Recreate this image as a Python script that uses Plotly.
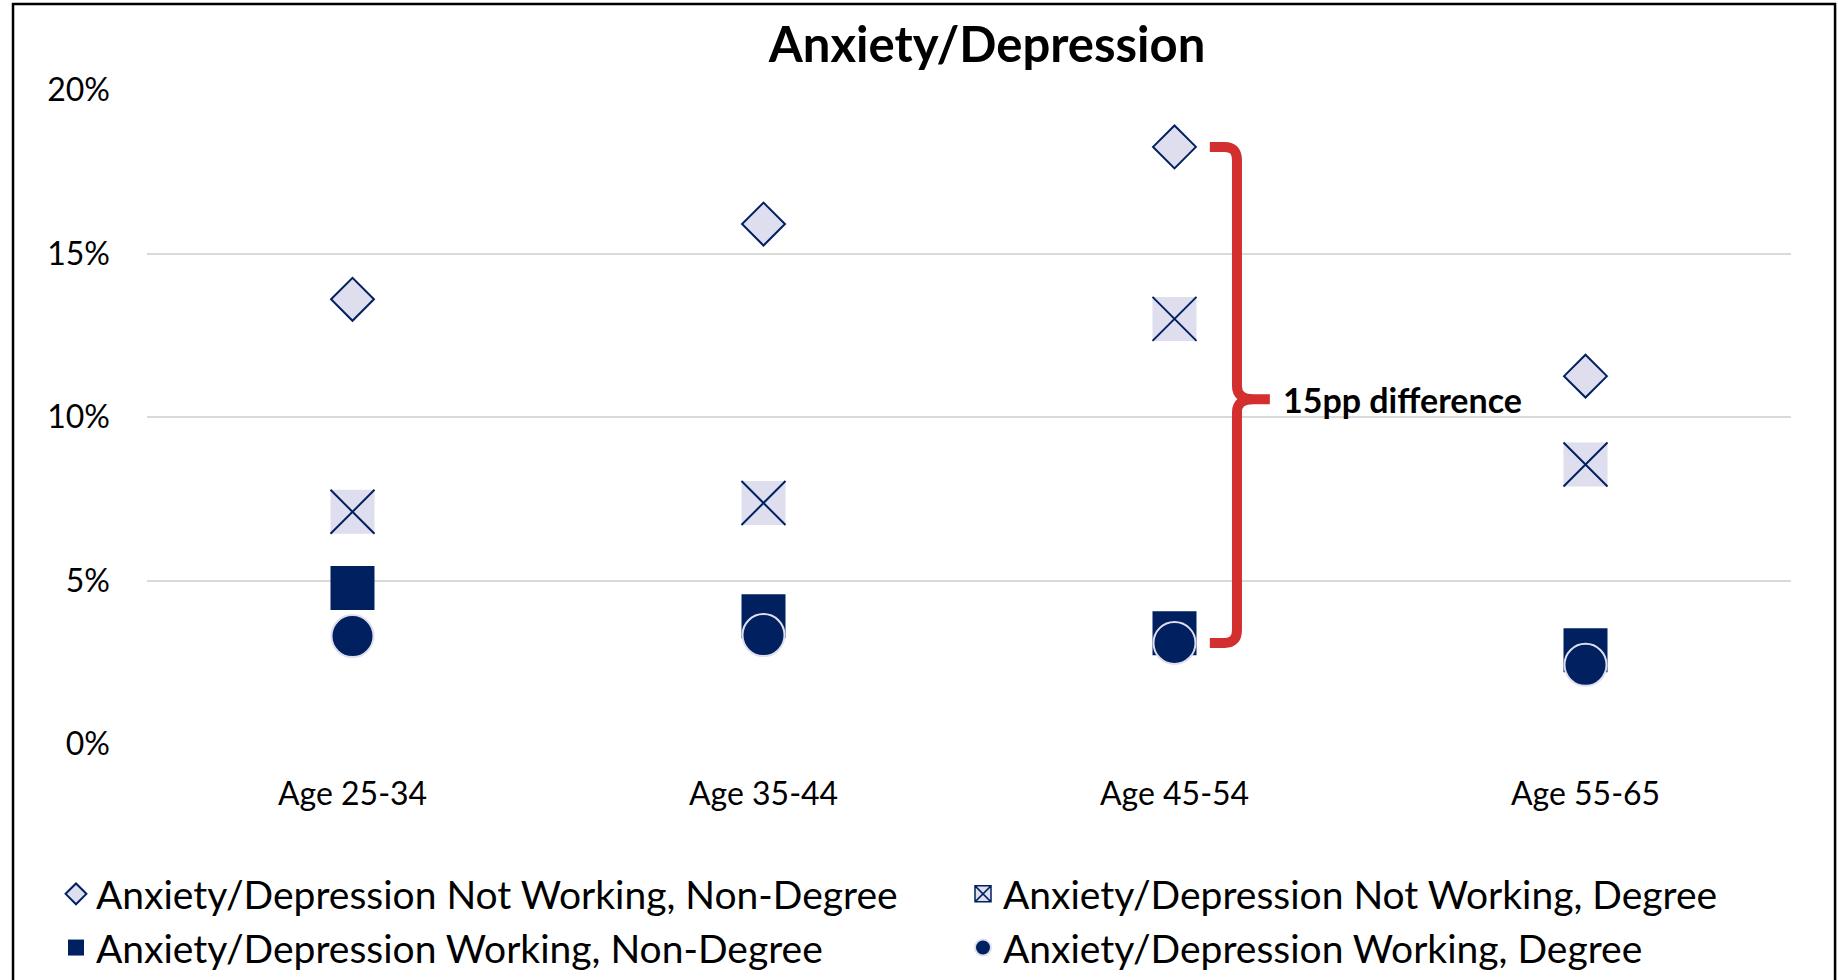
import plotly.graph_objects as go

# Dados (proporções)
categories = ["Age 25-34", "Age 35-44", "Age 45-54", "Age 55-65"]
not_working_non_degree = [0.136, 0.159, 0.1826, 0.1125]
not_working_degree = [0.071, 0.0737, 0.130, 0.0855]
working_non_degree = [0.0477, 0.0391, 0.0339, 0.0287]
working_degree = [0.0330, 0.0333, 0.0309, 0.0242]

NAVY = "#002060"
LAVENDER = "#DEDEEE"
RED = "#D32F2F"
FONT = "Lato, Open Sans, sans-serif"

x_idx = list(range(len(categories)))

fig = go.Figure()

# Losango - Not Working, Non-Degree (coluna esquerda da legenda)
fig.add_trace(go.Scatter(
    x=x_idx, y=not_working_non_degree, mode="markers",
    name="Anxiety/Depression Not Working, Non-Degree", legend="legend",
    marker=dict(symbol="diamond", size=33, color=LAVENDER,
                line=dict(color=NAVY, width=2)),
))

# Quadrado com X - só a entrada de legenda (coluna direita)
fig.add_trace(go.Scatter(
    x=[None], y=[None], mode="markers",
    name="Anxiety/Depression Not Working, Degree", legend="legend2",
    marker=dict(symbol="square-x", size=44, color=LAVENDER,
                line=dict(color=NAVY, width=1.5)),
))
# fundo lilás + X azul
fig.add_trace(go.Scatter(
    x=x_idx, y=not_working_degree, mode="markers", showlegend=False,
    marker=dict(symbol="square", size=44, color=LAVENDER,
                line=dict(width=0)),
))
fig.add_trace(go.Scatter(
    x=x_idx, y=not_working_degree, mode="markers", showlegend=False,
    marker=dict(symbol="x-thin", size=44, color=NAVY,
                line=dict(color=NAVY, width=2)),
))

# Quadrado - Working, Non-Degree
fig.add_trace(go.Scatter(
    x=x_idx, y=working_non_degree, mode="markers",
    name="Anxiety/Depression Working, Non-Degree", legend="legend",
    marker=dict(symbol="square", size=44, color=NAVY,
                line=dict(width=0)),
))

# Círculo - Working, Degree
fig.add_trace(go.Scatter(
    x=x_idx, y=working_degree, mode="markers",
    name="Anxiety/Depression Working, Degree", legend="legend2",
    marker=dict(symbol="circle", size=42, color=NAVY,
                line=dict(color=LAVENDER, width=2)),
))

# Chave vermelha (45-54)
top = not_working_non_degree[2]
bot = working_degree[2]
mid = (top + bot) / 2 - 0.0013
c = 2
xe, xv, xt = c + 0.086, c + 0.152, c + 0.232
dy = 0.004
path = (
    f"M {xe},{top} L {xv - 0.03},{top} Q {xv},{top} {xv},{top - dy} "
    f"L {xv},{mid + dy} Q {xv},{mid} {xv + 0.04},{mid} L {xt},{mid} "
    f"M {xv + 0.04},{mid} Q {xv},{mid} {xv},{mid - dy} "
    f"L {xv},{bot + dy} Q {xv},{bot} {xv - 0.03},{bot} L {xe},{bot}"
)
fig.add_shape(type="path", path=path, xref="x", yref="y",
              line=dict(color=RED, width=10))

fig.add_annotation(
    x=c + 0.26, y=mid, xref="x", yref="y", text="15pp difference",
    showarrow=False, xanchor="left", yanchor="middle",
    font=dict(family=FONT, size=34, color="black", weight="bold"),
)

# Moldura preta
fig.add_shape(type="rect", xref="paper", yref="paper",
              x0=-0.0815, x1=1.0268, y0=-0.4, y1=1.1315,
              line=dict(color="black", width=2.5), layer="above")

legend_font = dict(family=FONT, size=39, color="black")

fig.update_layout(
    title=dict(
        text="Anxiety/Depression",
        font=dict(family=FONT, size=49, color="black", weight="bold"),
        x=0.511, xanchor="center", xref="paper",
        y=1 - 45 / 980, yanchor="middle", yref="container",
    ),
    width=1839, height=980,
    margin=dict(l=147, r=48, t=90, b=236, autoexpand=False),
    plot_bgcolor="white",
    paper_bgcolor="white",
    font=dict(family=FONT, color="black"),
    showlegend=True,
    legend=dict(
        orientation="v",
        xref="container", x=56 / 1839, xanchor="left",
        yref="container", y=1 - 862 / 980, yanchor="top",
        font=legend_font, itemsizing="trace",
        bgcolor="rgba(0,0,0,0)",
    ),
    legend2=dict(
        orientation="v",
        xref="container", x=963 / 1839, xanchor="left",
        yref="container", y=1 - 862 / 980, yanchor="top",
        font=legend_font, itemsizing="trace",
        bgcolor="rgba(0,0,0,0)",
    ),
)

fig.update_yaxes(
    range=[0, 0.2], dtick=0.05, tickformat=".0%",
    showgrid=True, gridcolor="#D9D9D9", gridwidth=1.5,
    zeroline=False, showline=False, ticks="",
    ticklabelstandoff=36, automargin=False,
    tickfont=dict(family=FONT, size=32, color="black"),
)

fig.update_xaxes(
    range=[-0.5, 3.5], tickvals=x_idx, ticktext=categories,
    showgrid=False, zeroline=False, showline=False, ticks="",
    ticklabelstandoff=28, automargin=False,
    tickfont=dict(family=FONT, size=32, color="black"),
)

# página sem margem do body, para a figura ficar no canto
fig.write_html(
    "out.html",
    config={"displayModeBar": False},
    post_script="document.body.style.margin = '0px';",
)
